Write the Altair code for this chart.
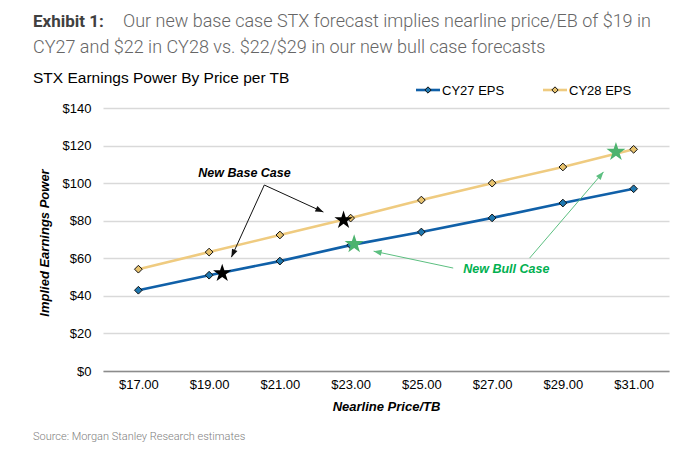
import math
import altair as alt
import pandas as pd

# ---------------- data ----------------
prices = [17, 19, 21, 23, 25, 27, 29, 31]
cy27 = [43.0, 51.0, 58.5, 67.0, 74.0, 81.5, 89.4, 97.0]
cy28 = [54.2, 63.3, 72.4, 81.4, 91.0, 100.0, 108.6, 118.0]
series_names = ["CY27 EPS", "CY28 EPS"]
y_ticks = [0, 20, 40, 60, 80, 100, 120, 140]

base_star_x = [19.37, 22.8]
base_star_y = [52.0, 80.3]
bull_star_x = [23.1, 30.5]
bull_star_y = [67.5, 116.6]

base_label = ["New Base Case"]
base_label_xy = [20.0, 105.5]
base_arrow_from_x = [20.56, 20.56]
base_arrow_from_y = [99.0, 99.0]
base_arrow_to_x = [19.63, 22.23]
base_arrow_to_y = [60.6, 84.6]

bull_label = ["New Bull Case"]
bull_label_xy = [27.4, 54.2]
bull_arrow_from_x = [25.9, 28.06]
bull_arrow_from_y = [54.8, 60.1]
bull_arrow_to_x = [23.65, 30.15]
bull_arrow_to_y = [63.8, 106.0]

title_bold = ["Exhibit 1:"]
title_line1 = ["Our new base case STX forecast implies nearline price/EB of $19 in"]
title_line2 = ["CY27 and $22 in CY28 vs. $22/$29 in our new bull case forecasts"]
chart_subtitle = ["STX Earnings Power By Price per TB"]
source_note = ["Source: Morgan Stanley Research estimates"]
x_title = "Nearline Price/TB"
y_title = "Implied Earnings Power"

# ---------------- layout / style ----------------
W, H = 566, 263
X_DOM = [16, 32]
Y_DOM = [0, 140]
KX = W / (X_DOM[1] - X_DOM[0])
KY = H / (Y_DOM[1] - Y_DOM[0])

LINE_COLORS = ["#1060A8", "#EFCB80"]
MARK_FILLS = ["#1F78B0", "#E8C36E"]
GREEN_STAR = "#4DB36E"
GREEN_ARROW = "#5CBF80"
GREEN_TEXT = "#00B050"
ARIAL = "Liberation Sans, Arial, sans-serif"
ROBOTO = "Roboto, sans-serif"

STAR = ("M0,-1 L0.2245,-0.309 L0.951,-0.309 L0.363,0.118 L0.588,0.809 "
        "L0,0.382 L-0.588,0.809 L-0.363,0.118 L-0.951,-0.309 L-0.2245,-0.309 Z")
HEAD = "M0,0 L0.75,2 L-0.75,2 Z"

xs = alt.Scale(domain=X_DOM, nice=False, zero=False)
ys = alt.Scale(domain=Y_DOM, nice=False)

x_axis = alt.Axis(values=prices, format="$.2f", grid=False, ticks=False,
                  labelFont=ARIAL, labelFontSize=13, labelColor="#000",
                  labelPadding=7, domainColor="#8C8C8C", domainWidth=1.6,
                  titleFont=ARIAL, titleFontSize=13, titleFontStyle="italic",
                  titleFontWeight="bold", titleColor="#000", titlePadding=9)
y_axis = alt.Axis(values=y_ticks, format="$,.0f", domain=False, labelOverlap=False,
                  ticks=False, gridColor="#D9D9D9", gridWidth=1.4,
                  labelFont=ARIAL, labelFontSize=13, labelColor="#000",
                  labelPadding=12, titleFont=ARIAL, titleFontSize=13,
                  titleFontStyle="italic", titleFontWeight="bold",
                  titleColor="#000", titleX=-52, titleY=H / 2 + 3)


def X(field):
    return alt.X(field, scale=xs, axis=x_axis, title=x_title)


def Y(field):
    return alt.Y(field, scale=ys, axis=y_axis, title=y_title)


rows = []
for name, vals in zip(series_names, [cy27, cy28]):
    for p, v in zip(prices, vals):
        rows.append({"price": p, "value": v, "series": name})
df = pd.DataFrame(rows)

color_scale = alt.Scale(domain=series_names, range=LINE_COLORS)
fill_scale = alt.Scale(domain=series_names, range=MARK_FILLS)

lines = alt.Chart(df).mark_line(strokeWidth=2.6).encode(
    x=X("price:Q"), y=Y("value:Q"),
    color=alt.Color("series:N", scale=color_scale, legend=None))
points = alt.Chart(df).mark_point(shape="diamond", filled=True, size=60, stroke="#111",
                                  strokeWidth=1, opacity=1).encode(
    x=X("price:Q"), y=Y("value:Q"),
    fill=alt.Fill("series:N", scale=fill_scale, legend=None))


def stars(xv, yv, color, size):
    d = pd.DataFrame({"price": xv, "value": yv})
    return alt.Chart(d).mark_point(shape=STAR, filled=True, size=size, color=color,
                                   opacity=1).encode(x=X("price:Q"), y=Y("value:Q"))


def arrows(fx, fy, tx, ty, color):
    angs = []
    for a, b, c, d in zip(fx, fy, tx, ty):
        dx = (c - a) * KX
        dy = -(d - b) * KY
        angs.append(math.degrees(math.atan2(dx, -dy)) % 360)
    d = pd.DataFrame({"price": fx, "value": fy, "tx": tx, "ty": ty, "ang": angs})
    rule = alt.Chart(d).mark_rule(color=color, strokeWidth=1).encode(
        x=X("price:Q"), y=Y("value:Q"), x2="tx:Q", y2="ty:Q")
    head = alt.Chart(d).mark_point(shape=HEAD, filled=True, size=64, color=color,
                                   opacity=1).encode(
        x=X("tx:Q"), y=Y("ty:Q"), angle=alt.Angle("ang:Q", scale=None))
    return rule + head


def label(txt, xy, color):
    d = pd.DataFrame({"t": txt, "price": [xy[0]], "value": [xy[1]]})
    return alt.Chart(d).mark_text(font=ARIAL, fontSize=12.5, fontStyle="italic",
                                  fontWeight="bold", color=color).encode(
        x=X("price:Q"), y=Y("value:Q"), text="t:N")


def free_text(txt, px, py, font, size, color, weight="normal"):
    d = pd.DataFrame({"t": txt})
    return alt.Chart(d).mark_text(font=font, fontSize=size, color=color, fontWeight=weight,
                                  align="left", baseline="middle").encode(
        x=alt.value(px), y=alt.value(py), text="t:N")


def legend_item(name, px, py, line_color, fill):
    d = pd.DataFrame({"t": [name]})
    ln = alt.Chart(d).mark_rule(color=line_color, strokeWidth=2.6).encode(
        x=alt.value(px), x2=alt.value(px + 24), y=alt.value(py))
    pt = alt.Chart(d).mark_point(shape="diamond", filled=True, size=40, fill=fill,
                                 stroke="#111", strokeWidth=1, opacity=1).encode(
        x=alt.value(px + 12), y=alt.value(py))
    tx = alt.Chart(d).mark_text(font=ARIAL, fontSize=13, color="#000", align="left",
                                baseline="middle").encode(
        x=alt.value(px + 26), y=alt.value(py + 0.5), text="t:N")
    return ln + pt + tx


layers = [
    lines, points,
    arrows(base_arrow_from_x, base_arrow_from_y, base_arrow_to_x, base_arrow_to_y, "#111"),
    arrows(bull_arrow_from_x, bull_arrow_from_y, bull_arrow_to_x, bull_arrow_to_y, GREEN_ARROW),
    stars(base_star_x, base_star_y, "#000", 370),
    stars(bull_star_x, bull_star_y, GREEN_STAR, 400),
    label(base_label, base_label_xy, "#000"),
    label(bull_label, bull_label_xy, GREEN_TEXT),
    free_text(title_bold, -70, -86, ROBOTO, 17, "#404040", "bold"),
    free_text(title_line1, 20, -86, ROBOTO, 18, "#666666", 300),
    free_text(title_line2, -70, -60, ROBOTO, 18, "#666666", 300),
    free_text(chart_subtitle, -70, -30, ARIAL, 15.5, "#000"),
    free_text(source_note, -70, 329, ROBOTO, 11, "#808080", 300),
    legend_item(series_names[0], 313, -18, LINE_COLORS[0], MARK_FILLS[0]),
    legend_item(series_names[1], 440, -18, LINE_COLORS[1], MARK_FILLS[1]),
]

chart = alt.layer(*layers).properties(
    width=W, height=H,
    autosize=alt.AutoSizeParams(type="none"),
    padding={"left": 103, "top": 108, "right": 21, "bottom": 93},
    background="white",
).configure_view(stroke=None)

chart.save("out.html", embed_options={"renderer": "svg", "actions": False})
